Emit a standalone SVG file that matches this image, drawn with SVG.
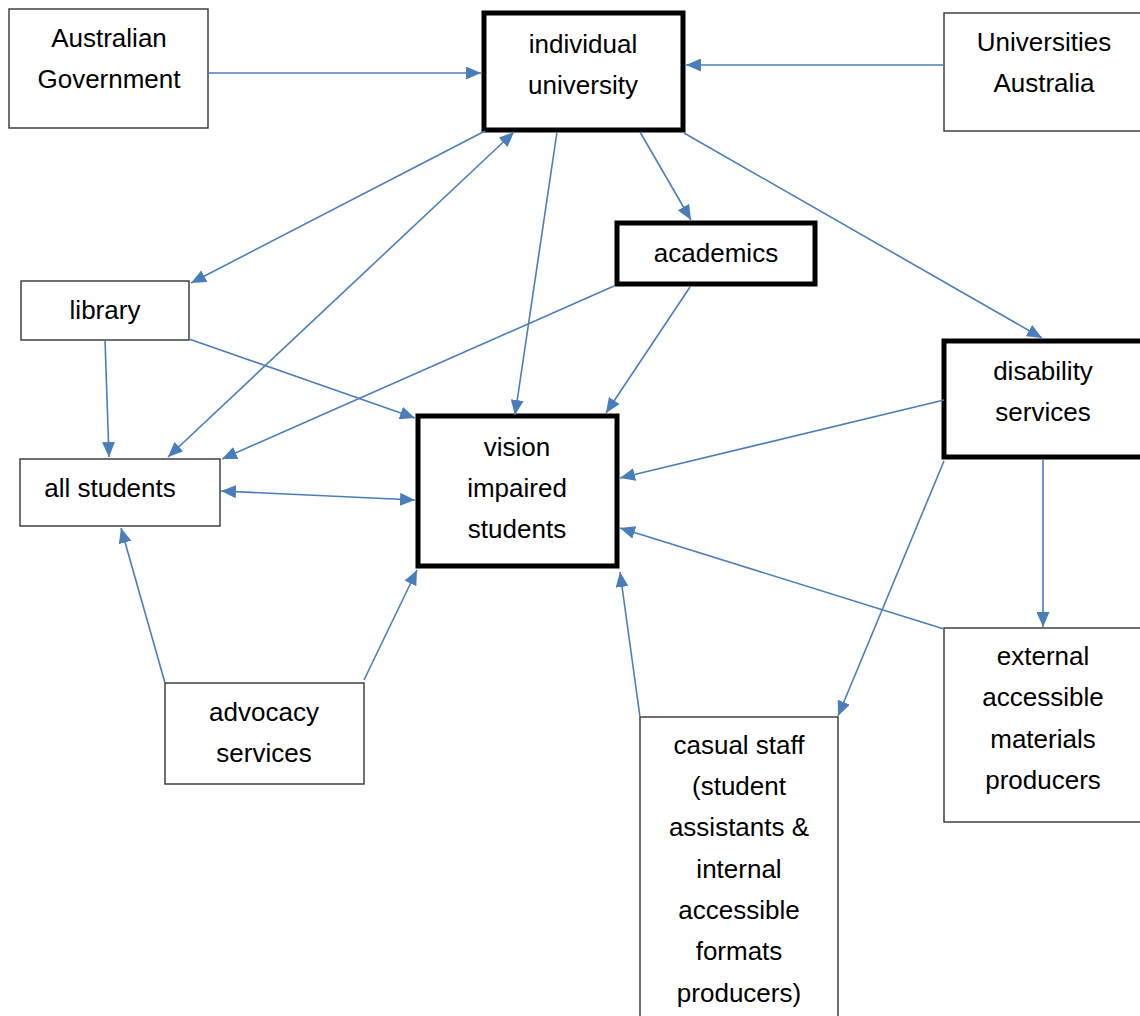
<svg xmlns="http://www.w3.org/2000/svg" width="1140" height="1016" viewBox="0 0 1140 1016">
<defs>
<marker id="ah" markerUnits="userSpaceOnUse" markerWidth="16" markerHeight="13" refX="15" refY="6.5" orient="auto-start-reverse" viewBox="0 0 16 13">
<path d="M0,0 L15,6.5 L0,13 z" fill="#4a7ebb"/>
</marker>
</defs>
<style>
.thin{fill:#fff;stroke:#333;stroke-width:1.4}
.thick{fill:#fff;stroke:#000;stroke-width:5}
.t{font-family:"Liberation Sans",Arial,sans-serif;font-size:26px;fill:#000;text-anchor:middle}
.c{fill:none;stroke:#4a7ebb;stroke-width:1.6;marker-end:url(#ah)}
</style>
<rect width="1140" height="1016" fill="#fff"/>
<g id="nodes">
<g id="gov"><rect class="thin" x="9" y="9" width="199" height="119"/><text class="t" x="109" y="47">Australian</text><text class="t" x="109" y="88">Government</text></g>
<g id="univ"><rect class="thick" x="484" y="13" width="199" height="117"/><text class="t" x="583" y="53">individual</text><text class="t" x="583" y="94">university</text></g>
<g id="ua"><rect class="thin" x="944" y="13" width="200" height="118"/><text class="t" x="1044" y="51">Universities</text><text class="t" x="1044" y="92">Australia</text></g>
<g id="academics"><rect class="thick" x="617" y="223" width="198" height="61"/><text class="t" x="716" y="262">academics</text></g>
<g id="library"><rect class="thin" x="21" y="281" width="168" height="59"/><text class="t" x="105" y="319">library</text></g>
<g id="disability"><rect class="thick" x="944" y="341" width="200" height="116"/><text class="t" x="1043" y="380">disability</text><text class="t" x="1043" y="421">services</text></g>
<g id="allstudents"><rect class="thin" x="20" y="459" width="200" height="67"/><text class="t" x="110" y="497">all students</text></g>
<g id="vision"><rect class="thick" x="418" y="416" width="199" height="150"/><text class="t" x="517" y="456">vision</text><text class="t" x="517" y="497">impaired</text><text class="t" x="517" y="538">students</text></g>
<g id="advocacy"><rect class="thin" x="165" y="683" width="199" height="101"/><text class="t" x="264" y="721">advocacy</text><text class="t" x="264" y="762">services</text></g>
<g id="casual"><rect class="thin" x="640" y="717" width="198" height="310"/><text class="t" x="739" y="754">casual staff</text><text class="t" x="739" y="795">(student</text><text class="t" x="739" y="836">assistants &amp;</text><text class="t" x="739" y="878">internal</text><text class="t" x="739" y="919">accessible</text><text class="t" x="739" y="960">formats</text><text class="t" x="739" y="1002">producers)</text></g>
<g id="external"><rect class="thin" x="944" y="628" width="200" height="194"/><text class="t" x="1043" y="665">external</text><text class="t" x="1043" y="706">accessible</text><text class="t" x="1043" y="748">materials</text><text class="t" x="1043" y="789">producers</text></g>
</g>
<g id="connectors">
<line class="c" x1="208" y1="73" x2="481" y2="73"/>
<line class="c" x1="944" y1="65" x2="686" y2="65"/>
<line class="c" x1="485" y1="131" x2="191" y2="283"/>
<line class="c" style="marker-start:url(#ah)" x1="168" y1="457" x2="514" y2="132"/>
<line class="c" x1="557" y1="132" x2="515" y2="415"/>
<line class="c" x1="640" y1="132" x2="691" y2="220"/>
<line class="c" x1="684" y1="133" x2="1042" y2="338"/>
<line class="c" x1="614" y1="286" x2="222" y2="459"/>
<line class="c" x1="690" y1="287" x2="606" y2="413"/>
<line class="c" x1="189" y1="339" x2="415" y2="418"/>
<line class="c" x1="105" y1="340" x2="109" y2="457"/>
<line class="c" style="marker-start:url(#ah)" x1="221" y1="491" x2="415" y2="500"/>
<line class="c" x1="944" y1="400" x2="620" y2="478"/>
<line class="c" x1="944" y1="461" x2="838" y2="716"/>
<line class="c" x1="1043" y1="460" x2="1043" y2="627"/>
<line class="c" x1="944" y1="629" x2="620" y2="528"/>
<line class="c" x1="640" y1="717" x2="620" y2="572"/>
<line class="c" x1="364" y1="680" x2="417" y2="570"/>
<line class="c" x1="165" y1="683" x2="121" y2="528"/>
</g>
</svg>
